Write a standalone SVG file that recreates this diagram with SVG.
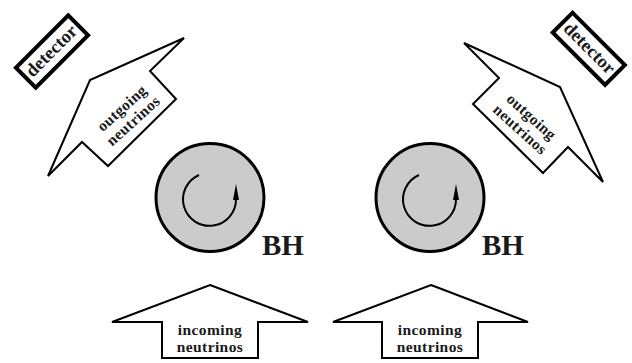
<svg xmlns="http://www.w3.org/2000/svg" width="632" height="363" viewBox="0 0 632 363">
<style>
.arrow{fill:#fff;stroke:#000;stroke-width:2;stroke-linejoin:miter}
.det{fill:#fff;stroke:#000;stroke-width:4}
.bh{fill:#cbcbcb;stroke:#000;stroke-width:3}
.spin{fill:none;stroke:#000;stroke-width:2}
.t{font-family:"Liberation Serif","Times New Roman",serif;font-weight:bold;fill:#1a1a1a;text-anchor:middle}
.lbl{font-size:15.5px;letter-spacing:0.4px}
.dt{font-size:18.5px}
.bht{font-size:29px;text-anchor:start}
</style>
<rect width="632" height="363" fill="#fff"/>
<g id="detector-left">
<g transform="translate(52,51.5) rotate(-45)">
<rect class="det" x="-37" y="-14" width="74" height="28"/>
<text class="t dt" x="0" y="5">detector</text>
</g>
</g>
<g id="detector-right">
<g transform="translate(588.8,48.8) rotate(45)">
<rect class="det" x="-37" y="-14" width="74" height="28"/>
<text class="t dt" x="0" y="5">detector</text>
</g>
</g>
<g id="outgoing-left">
<polygon class="arrow" points="184,38 150,71 176,99 108,166 82,142 48,176 90,80"/>
<g transform="translate(128.3,115.3) rotate(-42)">
<text class="t lbl" x="0" y="-4.5">outgoing</text>
<text class="t lbl" x="0" y="12.5">neutrinos</text>
</g>
</g>
<g id="outgoing-right">
<polygon class="arrow" points="464,43 499,78 473,104 543,173 568,147 603,182 560,87"/>
<g transform="translate(525,124) rotate(42)">
<text class="t lbl" x="0" y="-4.5">outgoing</text>
<text class="t lbl" x="0" y="12.5">neutrinos</text>
</g>
</g>
<g id="bh-left">
<circle class="bh" cx="210" cy="197.5" r="54"/>
<path class="spin" d="M199,175 A26.5,26.5 0 1 0 236,199"/>
<polygon points="236,184 233,200 239,200" fill="#000"/>
<text class="t bht" x="262" y="255">BH</text>
</g>
<g id="bh-right">
<circle class="bh" cx="430" cy="197.5" r="54"/>
<path class="spin" d="M419,175 A26.5,26.5 0 1 0 456,199"/>
<polygon points="456,184 453,200 459,200" fill="#000"/>
<text class="t bht" x="482" y="255">BH</text>
</g>
<g id="incoming-left">
<polygon class="arrow" points="210,285 308,322 258,322 258,358 162,358 162,322 112,322"/>
<text class="t lbl" x="210" y="335">incoming</text>
<text class="t lbl" x="210" y="352">neutrinos</text>
</g>
<g id="incoming-right">
<polygon class="arrow" points="431,285 528,322 478,322 478,358 382,358 382,322 333,322"/>
<text class="t lbl" x="430" y="335">incoming</text>
<text class="t lbl" x="430" y="352">neutrinos</text>
</g>
<g id="connectors"/>
</svg>
